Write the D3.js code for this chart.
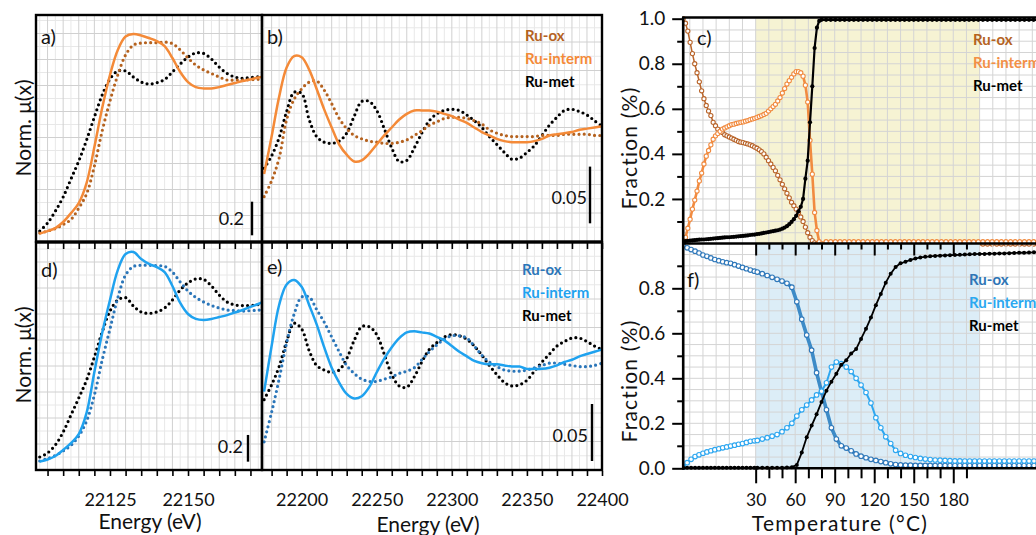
<!DOCTYPE html>
<html>
<head>
<meta charset="utf-8">
<script src="https://cdn.jsdelivr.net/npm/d3@7/dist/d3.min.js"></script>
<style>
  html, body { margin: 0; padding: 0; background: #ffffff; }
  svg { display: block; }
  text { font-family: Lato, "Open Sans", "DejaVu Sans", sans-serif; fill: #111; }
</style>
</head>
<body>
<svg id="fig" width="1036" height="535"></svg>
<script>
// ---------- XANES region (panels a and d) ----------
const xanesEnergy = [22102.5, 22105, 22107.5, 22110, 22112.5, 22115, 22117.5, 22120, 22122.5, 22125,
  22127.5, 22130, 22132.5, 22135, 22137.5, 22140, 22142.5, 22145, 22147.5, 22150,
  22152.5, 22155, 22157.5, 22160, 22162.5, 22165, 22167.5, 22170, 22172.5, 22174];

const aOx = [0.077, 0.089, 0.104, 0.128, 0.158, 0.226, 0.310, 0.476, 0.685, 0.863,
  1.018, 1.137, 1.196, 1.208, 1.210, 1.210, 1.214, 1.205, 1.167, 1.119,
  1.077, 1.048, 1.027, 1.006, 0.988, 0.988, 0.988, 0.990, 0.992, 0.992];
const aInterm = [0.074, 0.089, 0.107, 0.143, 0.196, 0.256, 0.375, 0.589, 0.821, 1.018,
  1.167, 1.247, 1.262, 1.253, 1.238, 1.220, 1.190, 1.119, 1.036, 0.976,
  0.946, 0.938, 0.938, 0.946, 0.958, 0.970, 0.982, 0.991, 1.003, 1.006];
const aMet = [0.089, 0.137, 0.208, 0.292, 0.399, 0.506, 0.631, 0.768, 0.899, 0.994,
  1.042, 1.042, 1.006, 0.976, 0.964, 0.972, 0.991, 1.036, 1.083, 1.125,
  1.149, 1.146, 1.113, 1.065, 1.027, 1.006, 0.998, 1.003, 1.007, 1.009];

const dOx = [-0.146, -0.128, -0.105, -0.071, -0.029, 0.041, 0.153, 0.348, 0.610, 0.843,
  1.076, 1.247, 1.311, 1.320, 1.320, 1.317, 1.312, 1.269, 1.195, 1.127,
  1.079, 1.045, 1.019, 1.000, 0.985, 0.981, 0.977, 0.980, 0.984, 0.985];
const dInterm = [-0.150, -0.135, -0.109, -0.063, -0.012, 0.056, 0.214, 0.521, 0.813, 1.060,
  1.284, 1.404, 1.419, 1.367, 1.330, 1.307, 1.269, 1.165, 1.038, 0.955,
  0.918, 0.911, 0.918, 0.932, 0.947, 0.966, 0.985, 1.008, 1.030, 1.045];
const dMet = [-0.116, -0.086, -0.026, 0.071, 0.198, 0.326, 0.460, 0.633, 0.820, 0.977,
  1.060, 1.078, 1.015, 0.970, 0.960, 0.970, 1.000, 1.060, 1.135, 1.188,
  1.218, 1.214, 1.165, 1.097, 1.045, 1.023, 1.018, 1.019, 1.026, 1.030];

// ---------- EXAFS region (panels b and e) ----------
const exafsEnergy = [22175, 22180, 22185, 22190, 22195, 22200, 22205, 22210, 22215, 22220,
  22225, 22230, 22235, 22240, 22245, 22250, 22255, 22260, 22265, 22270,
  22275, 22280, 22285, 22290, 22295, 22300, 22305, 22310, 22315, 22320,
  22325, 22330, 22335, 22340, 22345, 22350, 22355, 22360, 22365, 22370,
  22375, 22380, 22385, 22390, 22395, 22400];

const bOx = [0.943, 0.957, 0.977, 1.011, 1.029, 1.038, 1.044, 1.045, 1.037, 1.025,
  1.012, 1.003, 0.997, 0.994, 0.992, 0.991, 0.990, 0.990, 0.991, 0.993,
  0.997, 1.001, 1.006, 1.009, 1.012, 1.013, 1.013, 1.012, 1.010, 1.007,
  1.002, 0.999, 0.997, 0.996, 0.996, 0.996, 0.996, 0.997, 0.997, 0.997,
  0.998, 0.998, 0.998, 0.998, 0.997, 0.997];
const bInterm = [0.963, 0.996, 1.031, 1.057, 1.067, 1.066, 1.055, 1.038, 1.020, 1.004,
  0.989, 0.980, 0.974, 0.975, 0.981, 0.989, 0.997, 1.004, 1.011, 1.016,
  1.019, 1.019, 1.019, 1.018, 1.016, 1.014, 1.011, 1.008, 1.004, 1.000,
  0.997, 0.994, 0.992, 0.991, 0.991, 0.991, 0.992, 0.994, 0.997, 0.998,
  0.999, 1.000, 1.002, 1.003, 1.004, 1.005];
const bMet = [0.968, 0.979, 0.995, 1.018, 1.035, 1.034, 1.011, 0.996, 0.991, 0.990,
  0.992, 0.999, 1.014, 1.027, 1.027, 1.019, 1.003, 0.986, 0.974, 0.975,
  0.986, 0.999, 1.010, 1.016, 1.019, 1.020, 1.019, 1.015, 1.010, 1.004,
  0.996, 0.989, 0.982, 0.976, 0.977, 0.982, 0.988, 0.997, 1.006, 1.013,
  1.019, 1.020, 1.018, 1.015, 1.010, 1.005];

const eOx = [0.930, 0.956, 0.985, 1.017, 1.042, 1.057, 1.057, 1.046, 1.035, 1.022,
  1.009, 0.997, 0.990, 0.985, 0.983, 0.983, 0.985, 0.987, 0.990, 0.992,
  0.995, 1.002, 1.009, 1.015, 1.020, 1.023, 1.023, 1.021, 1.014, 1.006,
  1.000, 0.996, 0.993, 0.992, 0.992, 0.993, 0.995, 0.997, 0.999, 0.999,
  0.998, 0.997, 0.996, 0.996, 0.997, 0.999];
const eInterm = [0.974, 1.014, 1.050, 1.068, 1.072, 1.066, 1.050, 1.033, 1.013, 0.995,
  0.982, 0.972, 0.968, 0.970, 0.978, 0.991, 1.003, 1.013, 1.021, 1.026,
  1.027, 1.026, 1.025, 1.022, 1.019, 1.014, 1.009, 1.005, 1.001, 0.999,
  0.998, 0.998, 0.997, 0.996, 0.996, 0.994, 0.994, 0.994, 0.995, 0.997,
  1.000, 1.002, 1.005, 1.007, 1.009, 1.011];
const eMet = [0.967, 0.980, 0.996, 1.018, 1.034, 1.029, 1.010, 0.997, 0.993, 0.991,
  0.993, 1.003, 1.019, 1.031, 1.031, 1.024, 1.007, 0.989, 0.979, 0.978,
  0.987, 1.000, 1.011, 1.017, 1.022, 1.024, 1.023, 1.020, 1.014, 1.006,
  0.997, 0.989, 0.982, 0.979, 0.980, 0.984, 0.992, 1.000, 1.007, 1.014,
  1.018, 1.021, 1.021, 1.018, 1.014, 1.011];

// ---------- Linear-combination fractions (panels c and f) ----------
// time in minutes; the heating ramp starts at 30 °C after the isothermal hold
const cTime = [0, 0.35, 0.7, 1.05, 1.4, 1.75, 2.1, 2.45, 2.8, 3.15, 3.5, 3.85, 4.2, 4.55, 4.9, 5.25,
  5.6, 5.95, 6.3, 6.65, 7, 7.35, 7.7, 8.05, 8.4, 8.75, 9.1, 9.45, 9.8, 10.15, 10.5, 10.85,
  11.2, 11.55, 11.9, 12.25, 12.6, 12.95, 13.3, 13.65, 14, 14.35, 14.7, 15.05, 15.4, 15.75,
  16.1, 16.45, 16.8, 17.15, 17.5, 17.85, 18.2, 18.55, 18.9, 19.25, 19.6, 19.95, 20.3, 20.65, 21,
  21.7, 22.4, 23.1, 23.8, 24.5, 25.2, 25.9, 26.6, 27.3, 28, 28.7, 29.4, 30.1, 30.8, 31.5,
  32.2, 32.9, 33.6, 34.3, 35, 35.7, 36.4, 37.1, 37.8, 38.5, 39.2, 39.9, 40.6, 41.3, 42,
  42.7, 43.4, 44.1, 44.8, 45.5, 46.2, 46.9, 47.6, 48.3, 49, 49.7, 50.4, 51.1, 51.8, 52.5,
  53.2, 53.9, 54.6, 55.3, 56, 56.7];
const cOx = [1.00, 0.98, 0.945, 0.895, 0.845, 0.80, 0.76, 0.72, 0.68, 0.645,
  0.615, 0.59, 0.57, 0.54, 0.525, 0.51, 0.50, 0.495, 0.485, 0.48,
  0.475, 0.47, 0.465, 0.46, 0.455, 0.452, 0.45, 0.447, 0.444, 0.44,
  0.436, 0.43, 0.425, 0.418, 0.41, 0.40, 0.385, 0.37, 0.355, 0.34,
  0.325, 0.305, 0.285, 0.265, 0.245, 0.225, 0.205, 0.185, 0.17, 0.155,
  0.14, 0.12, 0.10, 0.075, 0.05, 0.03, 0.015, 0.005, 0, 0, 0,
  0, 0, 0, 0, 0, 0, 0, 0, 0, 0, 0, 0, 0, 0, 0, 0, 0, 0, 0, 0, 0, 0, 0, 0, 0,
  0, 0, 0, 0, 0, 0, 0, 0, 0, 0, 0, 0, 0, 0, 0, 0, 0, 0, 0, 0, 0, 0, 0, 0, 0, 0];
const cInterm = [0.01, 0.03, 0.07, 0.11, 0.155, 0.195, 0.235, 0.28, 0.315, 0.355,
  0.39, 0.415, 0.44, 0.465, 0.48, 0.49, 0.50, 0.51, 0.515, 0.52,
  0.525, 0.53, 0.532, 0.535, 0.538, 0.54, 0.542, 0.545, 0.548, 0.552,
  0.555, 0.558, 0.562, 0.566, 0.57, 0.575, 0.58, 0.59, 0.60, 0.61,
  0.62, 0.635, 0.65, 0.67, 0.69, 0.71, 0.725, 0.74, 0.755, 0.765,
  0.765, 0.76, 0.745, 0.705, 0.63, 0.46, 0.31, 0.14, 0.06, 0.01, 0.0,
  0.01, 0.01, 0.01, 0.01, 0.01, 0.01, 0.01, 0.01, 0.01, 0.01, 0.01, 0.01, 0.01, 0.01, 0.01,
  0.01, 0.01, 0.01, 0.01, 0.01, 0.01, 0.01, 0.01, 0.01, 0.01, 0.01, 0.01, 0.01, 0.01, 0.01,
  0.01, 0.01, 0.01, 0.01, 0.01, 0.01, 0.01, 0.01, 0.01, 0.01, 0.01, 0.01, 0.01, 0.01, 0.01,
  0.01, 0.01, 0.01, 0.01, 0.01, 0.01];
const cMet = [0.012, 0.013, 0.014, 0.015, 0.016, 0.017, 0.018, 0.019, 0.02, 0.02,
  0.021, 0.022, 0.023, 0.024, 0.025, 0.026, 0.027, 0.028, 0.029, 0.03,
  0.03, 0.031, 0.032, 0.033, 0.034, 0.035, 0.036, 0.037, 0.038, 0.04,
  0.041, 0.042, 0.044, 0.045, 0.047, 0.049, 0.051, 0.053, 0.055, 0.057,
  0.059, 0.061, 0.064, 0.068, 0.073, 0.079, 0.088, 0.098, 0.11, 0.125,
  0.145, 0.165, 0.2, 0.29, 0.37, 0.54, 0.70, 0.87, 0.96, 0.99, 0.995,
  0.995, 0.995, 0.995, 0.995, 0.995, 0.995, 0.995, 0.995, 0.995, 0.995, 0.995, 0.995, 0.995, 0.995, 0.995,
  0.995, 0.995, 0.995, 0.995, 0.995, 0.995, 0.995, 0.995, 0.995, 0.995, 0.995, 0.995, 0.995, 0.995, 0.995,
  0.995, 0.995, 0.995, 0.995, 0.995, 0.995, 0.995, 0.995, 0.995, 0.995, 0.995, 0.995, 0.995, 0.995, 0.995,
  0.995, 0.995, 0.995, 0.995, 0.995, 0.995];

const fTime = [0, 0.6, 1.2, 1.8, 2.4, 3, 3.6, 4.2, 4.8, 5.4, 6, 6.6, 7.2, 7.8, 8.4, 9, 9.6, 10.2, 10.8,
  11.25, 12, 12.75, 13.5, 14.25, 15, 15.75, 16.5, 17.25, 18, 18.75, 19.5, 20.25, 21, 21.75,
  22.5, 23.25, 24, 24.75, 25.5, 26.25, 27, 27.75, 28.5, 29.25, 30, 30.75, 31.5, 32.25, 33,
  33.75, 34.5, 35.25, 36, 36.75, 37.5, 38.25, 39, 39.75, 40.5, 41.25, 42, 42.75, 43.5, 44.25,
  45, 45.75, 46.5, 47.25, 48, 48.75, 49.5, 50.25, 51, 51.75, 52.5, 53.25, 54];
const fOx = [0.99, 0.98, 0.972, 0.965, 0.957, 0.948, 0.942, 0.935, 0.928, 0.923,
  0.918, 0.914, 0.911, 0.905, 0.899, 0.893, 0.887, 0.881, 0.876,
  0.872, 0.865, 0.857, 0.849, 0.84, 0.832, 0.822, 0.805, 0.74, 0.663,
  0.592, 0.525, 0.425, 0.34, 0.26, 0.18, 0.13, 0.10, 0.09, 0.078,
  0.064, 0.054, 0.047, 0.04, 0.035, 0.03, 0.025, 0.02, 0.017, 0.015,
  0.014, 0.014, 0.013, 0.013, 0.013, 0.013, 0.012, 0.012, 0.012, 0.012,
  0.012, 0.012, 0.012, 0.012, 0.012, 0.012, 0.012, 0.012, 0.012, 0.012,
  0.012, 0.012, 0.012, 0.012, 0.012, 0.012, 0.012, 0.012];
const fInterm = [0.005, 0.025, 0.04, 0.052, 0.06, 0.067, 0.073, 0.078, 0.083, 0.087,
  0.091, 0.095, 0.099, 0.103, 0.107, 0.11, 0.115, 0.12, 0.122,
  0.124, 0.13, 0.136, 0.143, 0.15, 0.163, 0.18, 0.2, 0.232, 0.26,
  0.281, 0.304, 0.326, 0.343, 0.38, 0.45, 0.472, 0.465, 0.45, 0.43,
  0.40, 0.37, 0.337, 0.29, 0.225, 0.18, 0.14, 0.11, 0.08, 0.066,
  0.058, 0.052, 0.048, 0.044, 0.041, 0.039, 0.037, 0.036, 0.035, 0.034,
  0.033, 0.033, 0.032, 0.032, 0.032, 0.032, 0.032, 0.032, 0.032, 0.032,
  0.032, 0.032, 0.032, 0.032, 0.032, 0.032, 0.032, 0.032];
const fMet = [0.003, 0.003, 0.003, 0.003, 0.003, 0.003, 0.003, 0.003, 0.003, 0.003,
  0.003, 0.003, 0.003, 0.003, 0.003, 0.003, 0.003, 0.003, 0.003,
  0.003, 0.003, 0.003, 0.003, 0.003, 0.003, 0.004, 0.005, 0.015, 0.07,
  0.138, 0.19, 0.24, 0.295, 0.345, 0.385, 0.42, 0.46, 0.48, 0.51,
  0.53, 0.575, 0.62, 0.67, 0.725, 0.775, 0.825, 0.865, 0.895, 0.911,
  0.918, 0.926, 0.932, 0.937, 0.94, 0.942, 0.944, 0.945, 0.946, 0.947,
  0.948, 0.949, 0.95, 0.951, 0.952, 0.953, 0.953, 0.954, 0.954, 0.955,
  0.955, 0.956, 0.957, 0.958, 0.958, 0.959, 0.96, 0.96];

const seriesNames = ["Ru-ox", "Ru-interm", "Ru-met"];
const xanesLabels = [22125, 22150];
const exafsLabels = [22200, 22250, 22300, 22350, 22400];
const tempLabels = [30, 60, 90, 120, 150, 180];
const tempTicks = [30, 40, 50, 60, 70, 80, 90, 100, 110, 120, 130, 140, 150, 160, 170, 180, 190];
const fracMinor = [0.1, 0.3, 0.5, 0.7, 0.9];

// ---------- colours ----------
const orangeDark = "#b5621f", orangeLight = "#f48a38";
const blueDark = "#2b76b9", blueLight = "#1fa2ef";

const svg = d3.select("#fig");

// ---------- scales ----------
const xXanes = d3.scaleLinear().domain([22101.3, 22173.7]).range([36, 262]);
const xExafs = d3.scaleLinear().domain([22173.6, 22400]).range([262, 602]);
const yA = d3.scaleLinear().domain([0.036, 1.375]).range([240, 15]);
const yD = d3.scaleLinear().domain([-0.2135, 1.4869]).range([470, 243]);
const yB = d3.scaleLinear().domain([0.9039, 1.1032]).range([241, 15]);
const yE = d3.scaleLinear().domain([0.9053, 1.1044]).range([470, 243]);

const rampStart = 11;   // min
const rampRate = 5;     // °C / min
const xTime = d3.scaleLinear().domain([0, 57]).range([683.2, 683.2 + 57 * 6.587]);
const xTemp = d3.scaleLinear()
  .domain([30, 30 + rampRate * (57 - rampStart)])
  .range([xTime(rampStart), xTime(57)]);
const yC = d3.scaleLinear().domain([0, 1]).range([244, 18.7]);
const yF = d3.scaleLinear().domain([0, 1]).range([468.3, 243.3]);

// ---------- spectra panels ----------
function drawSpectra(p) {
  const g = svg.append("g");
  const clipId = "clip-" + p.id;
  g.append("clipPath").attr("id", clipId).append("rect")
    .attr("x", p.box.x0).attr("y", p.box.y0)
    .attr("width", p.box.x1 - p.box.x0).attr("height", p.box.y1 - p.box.y0);

  const grid = g.append("g").attr("clip-path", `url(#${clipId})`);
  p.vMinor.forEach(e => grid.append("line")
    .attr("x1", p.x(e)).attr("x2", p.x(e)).attr("y1", p.box.y0).attr("y2", p.box.y1)
    .attr("stroke", "#e8e8e8").attr("stroke-width", 1));
  d3.range(p.box.y1 - p.hStep / 2, p.box.y0, -p.hStep).forEach(yy => grid.append("line")
    .attr("x1", p.box.x0).attr("x2", p.box.x1).attr("y1", yy).attr("y2", yy)
    .attr("stroke", "#e8e8e8").attr("stroke-width", 1));
  p.vMajor.forEach(e => grid.append("line")
    .attr("x1", p.x(e)).attr("x2", p.x(e)).attr("y1", p.box.y0).attr("y2", p.box.y1)
    .attr("stroke", "#d0d0d0").attr("stroke-width", 1));
  d3.range(p.box.y1 - p.hStep, p.box.y0, -p.hStep).forEach(yy => grid.append("line")
    .attr("x1", p.box.x0).attr("x2", p.box.x1).attr("y1", yy).attr("y2", yy)
    .attr("stroke", "#d0d0d0").attr("stroke-width", 1));

  const data = g.append("g").attr("clip-path", `url(#${clipId})`);
  p.series.forEach(s => {
    const line = d3.line()
      .x((d, i) => p.x(p.energy[i]))
      .y(d => p.y(d))
      .curve(d3.curveCatmullRom.alpha(0.5));
    const path = data.append("path").datum(s.values).attr("d", line)
      .attr("fill", "none").attr("stroke", s.color);
    if (s.dotted) {
      path.attr("stroke-width", 3.2).attr("stroke-dasharray", "0 5.2").attr("stroke-linecap", "round");
    } else {
      path.attr("stroke-width", 2.5);
    }
  });

  // scale bar
  g.append("line")
    .attr("x1", p.bar.x).attr("x2", p.bar.x)
    .attr("y1", p.y(p.bar.base)).attr("y2", p.y(p.bar.base + p.bar.value))
    .attr("stroke", "#000").attr("stroke-width", 2.4);
  g.append("text").attr("x", p.bar.tx).attr("y", p.bar.ty)
    .attr("text-anchor", "end").attr("font-size", 18).text(p.bar.value);

  g.append("rect")
    .attr("x", p.box.x0).attr("y", p.box.y0)
    .attr("width", p.box.x1 - p.box.x0).attr("height", p.box.y1 - p.box.y0)
    .attr("fill", "none").attr("stroke", "#000").attr("stroke-width", 2.4);

  g.append("text").attr("x", p.label.x).attr("y", p.label.y)
    .attr("font-size", 20).text(p.label.text);

  if (p.legend) {
    p.legend.colors.forEach((c, i) => g.append("text")
      .attr("x", p.legend.x).attr("y", p.legend.y + i * p.legend.dy)
      .attr("font-size", 15).attr("font-weight", 700)
      .style("fill", c).text(seriesNames[i]));
  }
}

const xanesMinor = d3.range(22102.5, 22174, 5);
const xanesMajor = d3.range(22105, 22174, 5);
const exafsMinor = d3.range(22175, 22400, 10);
const exafsMajor = d3.range(22180, 22400, 10);

drawSpectra({
  id: "a", x: xXanes, y: yA, energy: xanesEnergy,
  box: { x0: 36, x1: 262, y0: 15, y1: 241.5 }, hStep: 26,
  vMinor: xanesMinor, vMajor: xanesMajor,
  series: [
    { values: aMet, color: "#000", dotted: true },
    { values: aOx, color: orangeDark, dotted: true },
    { values: aInterm, color: orangeLight, dotted: false }
  ],
  bar: { x: 252, base: 0.064, value: 0.2, tx: 244, ty: 225 },
  label: { x: 41, y: 44, text: "a)" }
});
drawSpectra({
  id: "b", x: xExafs, y: yB, energy: exafsEnergy,
  box: { x0: 262, x1: 602, y0: 15, y1: 241.5 }, hStep: 28.5,
  vMinor: exafsMinor, vMajor: exafsMajor,
  series: [
    { values: bMet, color: "#000", dotted: true },
    { values: bOx, color: orangeDark, dotted: true },
    { values: bInterm, color: orangeLight, dotted: false }
  ],
  bar: { x: 590, base: 0.9195, value: 0.05, tx: 587, ty: 203.5 },
  label: { x: 267, y: 44, text: "b)" },
  legend: { x: 525, y: 41, dy: 23, colors: [orangeDark, orangeLight, "#000"] }
});
drawSpectra({
  id: "d", x: xXanes, y: yD, energy: xanesEnergy,
  box: { x0: 36, x1: 262, y0: 242.5, y1: 470 }, hStep: 26,
  vMinor: xanesMinor, vMajor: xanesMajor,
  series: [
    { values: dMet, color: "#000", dotted: true },
    { values: dOx, color: blueDark, dotted: true },
    { values: dInterm, color: blueLight, dotted: false }
  ],
  bar: { x: 248, base: -0.151, value: 0.2, tx: 243, ty: 453 },
  label: { x: 41, y: 277, text: "d)" }
});
drawSpectra({
  id: "e", x: xExafs, y: yE, energy: exafsEnergy,
  box: { x0: 262, x1: 602, y0: 242.5, y1: 470 }, hStep: 28.5,
  vMinor: exafsMinor, vMajor: exafsMajor,
  series: [
    { values: eMet, color: "#000", dotted: true },
    { values: eOx, color: blueDark, dotted: true },
    { values: eInterm, color: blueLight, dotted: false }
  ],
  bar: { x: 592, base: 0.9132, value: 0.05, tx: 588, ty: 442 },
  label: { x: 267, y: 274, text: "e)" },
  legend: { x: 522, y: 275, dy: 23, colors: [blueDark, blueLight, "#000"] }
});

// energy axes of the lower row (inward top ticks, outward bottom ticks with labels)
function energyAxis(x, ticks, labels, yTop, yBottom) {
  svg.append("g").attr("transform", `translate(0,${yTop})`)
    .call(d3.axisBottom(x).tickValues(ticks).tickSize(6).tickSizeOuter(0).tickFormat(""))
    .call(a => a.select(".domain").remove())
    .call(a => a.selectAll("line").attr("stroke", "#000").attr("stroke-width", 1.6));
  svg.append("g").attr("transform", `translate(0,${yBottom})`)
    .call(d3.axisBottom(x).tickValues(ticks).tickSize(5).tickSizeOuter(0).tickPadding(17)
      .tickFormat(d => labels.includes(d) ? d3.format("d")(d) : ""))
    .call(a => a.select(".domain").remove())
    .call(a => a.selectAll("line").attr("stroke", "#000").attr("stroke-width", 1.6))
    .call(a => a.selectAll("text").attr("font-size", 18).attr("font-family", null).style("fill", "#111"));
}
energyAxis(xXanes, xanesMajor, xanesLabels, 243, 471);
energyAxis(xExafs, d3.range(22180, 22401, 10), exafsLabels, 243, 471);

// ---------- fraction panels ----------
function drawFractions(p) {
  const g = svg.append("g");
  const clipId = "clip-" + p.id;
  g.append("clipPath").attr("id", clipId).append("rect")
    .attr("x", 683).attr("y", p.y(1) - 3).attr("width", 400).attr("height", p.y(0) - p.y(1) + 6);

  g.append("rect")
    .attr("x", xTemp(30)).attr("width", xTemp(200) - xTemp(30))
    .attr("y", p.y(1)).attr("height", p.y(0) - p.y(1))
    .attr("fill", p.shade);

  const grid = g.append("g");
  d3.range(1, 57, 2).forEach(t => grid.append("line")
    .attr("x1", xTime(t)).attr("x2", xTime(t)).attr("y1", p.y(1)).attr("y2", p.y(0))
    .attr("stroke", "#d4d4d4").attr("stroke-width", 1));
  d3.range(0.05, 1, 0.05).forEach(v => grid.append("line")
    .attr("x1", 683).attr("x2", 1036).attr("y1", p.y(v)).attr("y2", p.y(v))
    .attr("stroke", "#d4d4d4").attr("stroke-width", 1));

  const data = g.append("g").attr("clip-path", `url(#${clipId})`);
  p.series.forEach(s => {
    const line = d3.line().x((d, i) => xTime(p.time[i])).y(d => p.y(d));
    data.append("path").datum(s.values).attr("d", line)
      .attr("fill", "none").attr("stroke", s.lineColor || s.color)
      .attr("stroke-width", s.lineWidth).attr("stroke-linejoin", "round");
    data.append("g").selectAll("circle").data(s.values).join("circle")
      .attr("cx", (d, i) => xTime(p.time[i])).attr("cy", d => p.y(d))
      .attr("r", s.r)
      .attr("fill", s.filled ? s.color : "#fff")
      .attr("stroke", s.color).attr("stroke-width", s.filled ? 0 : 1.1);
  });

  g.append("text").attr("x", p.label.x).attr("y", p.label.y)
    .attr("font-size", 20).text(p.label.text);
  p.legend.colors.forEach((c, i) => g.append("text")
    .attr("x", p.legend.x).attr("y", p.legend.y + i * 23)
    .attr("font-size", 15).attr("font-weight", 700)
    .style("fill", c).text(seriesNames[i]));

  // fraction axis
  g.append("g").attr("transform", "translate(683.2,0)")
    .call(d3.axisLeft(p.y).tickValues(fracMinor).tickSize(6).tickFormat(""))
    .call(a => a.select(".domain").remove())
    .call(a => a.selectAll("line").attr("stroke", "#000").attr("stroke-width", 2));
  g.append("g").attr("transform", "translate(683.2,0)")
    .call(d3.axisLeft(p.y).tickValues(p.labelled).tickSize(11).tickPadding(7)
      .tickFormat(d3.format(".1f")))
    .call(a => a.select(".domain").remove())
    .call(a => a.selectAll("line").attr("stroke", "#000").attr("stroke-width", 2))
    .call(a => a.selectAll("text").attr("font-size", 19).attr("font-family", null).style("fill", "#111"));
}

drawFractions({
  id: "c", y: yC, time: cTime, shade: "#f6f3d3",
  series: [
    { values: cOx, color: "#b9652b", lineWidth: 1.5, r: 2.1 },
    { values: cInterm, color: "#f18b40", lineWidth: 2.6, r: 2.1 },
    { values: cMet, color: "#000", lineWidth: 2.2, r: 2.1, filled: true }
  ],
  labelled: [0.2, 0.4, 0.6, 0.8, 1.0],
  label: { x: 697, y: 45, text: "c)" },
  legend: { x: 973, y: 45, colors: ["#b5631f", "#f39046", "#000"] }
});
drawFractions({
  id: "f", y: yF, time: fTime, shade: "#dcedf7",
  series: [
    { values: fOx, color: "#2f78ba", lineColor: "#3d8bc7", lineWidth: 3.6, r: 2.3 },
    { values: fInterm, color: "#2ea7f0", lineWidth: 2, r: 2.3 },
    { values: fMet, color: "#000", lineWidth: 1.8, r: 2, filled: true }
  ],
  labelled: [0, 0.2, 0.4, 0.6, 0.8],
  label: { x: 687, y: 287, text: "f)" },
  legend: { x: 969, y: 285, colors: ["#2e75b6", "#2aa8f0", "#000"] }
});

// shared frame lines of the fraction panels
const frame = svg.append("g").attr("stroke", "#000").attr("stroke-width", 2.6);
frame.append("line").attr("x1", 683.2).attr("x2", 683.2).attr("y1", 17).attr("y2", 469.5);
frame.append("line").attr("x1", 682).attr("x2", 1036).attr("y1", 17.5).attr("y2", 17.5);
frame.append("line").attr("x1", 682).attr("x2", 1036).attr("y1", 243.5).attr("y2", 243.5);
frame.append("line").attr("x1", 682).attr("x2", 1036).attr("y1", 468.3).attr("y2", 468.3);

// temperature ticks between c and f, and the labelled temperature axis below f
const minorTemps = tempTicks.filter(t => !tempLabels.includes(t));
function tempAxis(y, values, size, labelled) {
  svg.append("g").attr("transform", `translate(0,${y})`)
    .call(d3.axisBottom(xTemp).tickValues(values).tickSize(size).tickSizeOuter(0).tickPadding(10)
      .tickFormat(labelled ? d3.format("d") : ""))
    .call(a => a.select(".domain").remove())
    .call(a => a.selectAll("line").attr("stroke", "#000").attr("stroke-width", 2))
    .call(a => a.selectAll("text").attr("font-size", 17.5).attr("font-family", null).style("fill", "#111"));
}
tempAxis(243.5, minorTemps, 6, false);
tempAxis(243.5, tempLabels, 12, false);
tempAxis(468.3, minorTemps, 10, false);
tempAxis(468.3, tempLabels, 15, true);

// ---------- axis titles ----------
function vTitle(x, y, txt, spacing) {
  svg.append("text").attr("transform", `translate(${x},${y}) rotate(-90)`)
    .attr("text-anchor", "middle").attr("font-size", 21)
    .attr("letter-spacing", spacing || 0).text(txt);
}
vTitle(31, 128, "Norm. \u03bc(x)");
vTitle(31, 355, "Norm. \u03bc(x)");
vTitle(637, 148, "Fraction (%)", 1.2);
vTitle(637, 381, "Fraction (%)", 1.2);
svg.append("text").attr("x", 150).attr("y", 529).attr("text-anchor", "middle")
  .attr("font-size", 21).text("Energy (eV)");
svg.append("text").attr("x", 428).attr("y", 532).attr("text-anchor", "middle")
  .attr("font-size", 21).text("Energy (eV)");
svg.append("text").attr("x", 840).attr("y", 531).attr("text-anchor", "middle")
  .attr("font-size", 21).attr("letter-spacing", 1.3).text("Temperature (\u00b0C)");
</script>
</body>
</html>
